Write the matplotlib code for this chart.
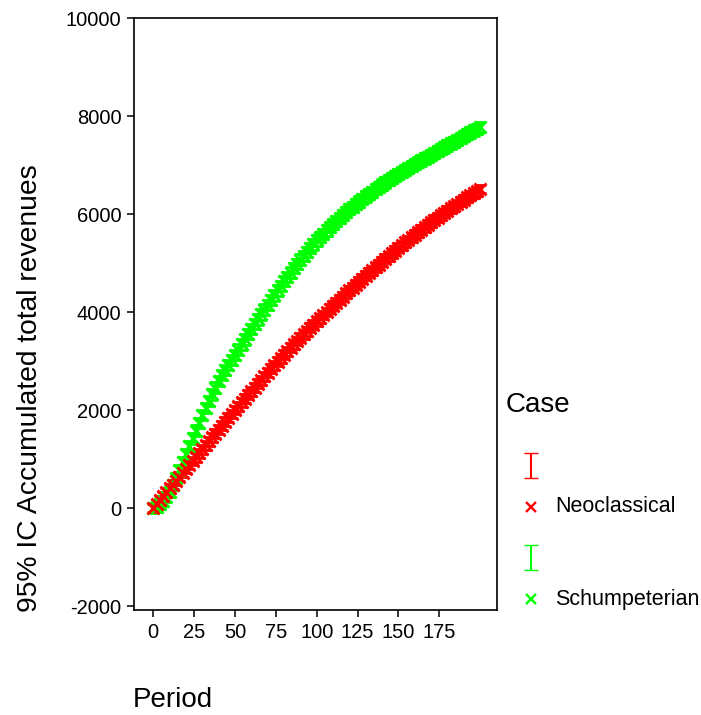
import numpy as np
import matplotlib
matplotlib.use("Agg")
import matplotlib.pyplot as plt

plt.rcParams['font.family'] = ['Liberation Sans', 'DejaVu Sans']
plt.rcParams['axes.unicode_minus'] = False

# periods (every 2nd period)
period = list(range(0, 201, 2))

neo = [0, 80, 160, 240, 320, 400,
       480, 560, 640, 720, 800,
       880, 960, 1040, 1120, 1200,
       1280, 1360, 1440, 1520, 1600,
       1680, 1760, 1840, 1920, 2000,
       2080, 2155, 2230, 2310, 2385,
       2460, 2535, 2610, 2690, 2765,
       2840, 2910, 2985, 3055, 3130,
       3200, 3270, 3340, 3410, 3480,
       3545, 3610, 3680, 3745, 3810,
       3875, 3940, 4000, 4065, 4130,
       4190, 4255, 4315, 4380, 4440,
       4500, 4560, 4620, 4680, 4740,
       4800, 4855, 4915, 4970, 5030,
       5085, 5140, 5200, 5255, 5310,
       5365, 5420, 5470, 5525, 5580,
       5630, 5680, 5730, 5780, 5830,
       5880, 5925, 5975, 6020, 6070,
       6115, 6160, 6205, 6250, 6295,
       6340, 6380, 6425, 6465, 6510]

schump = [0, 30, 80, 150, 230, 330,
          470, 620, 780, 940, 1100,
          1260, 1420, 1580, 1740, 1900,
          2040, 2180, 2320, 2460, 2600,
          2710, 2815, 2920, 3025, 3130,
          3235, 3340, 3440, 3545, 3650,
          3750, 3850, 3950, 4050, 4150,
          4245, 4340, 4440, 4535, 4630,
          4720, 4805, 4895, 4980, 5070,
          5150, 5225, 5305, 5380, 5460,
          5530, 5595, 5665, 5730, 5800,
          5860, 5920, 5980, 6040, 6100,
          6150, 6205, 6255, 6310, 6360,
          6410, 6455, 6505, 6550, 6600,
          6645, 6690, 6730, 6775, 6820,
          6860, 6900, 6940, 6980, 7020,
          7060, 7095, 7135, 7170, 7210,
          7250, 7285, 7325, 7360, 7400,
          7440, 7475, 7515, 7550, 7590,
          7630, 7665, 7705, 7740, 7780]

# half width of the 95% interval
neo_ci = 90
schump_ci = 105

cases = ['Neoclassical', 'Schumpeterian']
colors = ['#ff0000', '#00ff00']

fig = plt.figure(figsize=(7.01, 7.15), dpi=100)
ax = fig.add_axes([134/701, 1-610/715, 363/701, 592/715])

ax.errorbar(period, schump, yerr=schump_ci, fmt='x', color=colors[1], ecolor=colors[1],
            ms=8.5, mew=2, elinewidth=1.3, capsize=4)
ax.errorbar(period, neo, yerr=neo_ci, fmt='x', color=colors[0], ecolor=colors[0],
            ms=8.5, mew=2, elinewidth=1.3, capsize=4)

ax.set_xlim(-11.8, 210.3)
ax.set_ylim(-2080, 10000)
ax.set_xticks(range(0, 176, 25))
ax.set_yticks(range(-2000, 10001, 2000))
ax.tick_params(direction='out', length=5, width=1.1, labelsize=14.5, pad=4)
for s in ax.spines.values():
    s.set_linewidth(1.2)

fig.text(30/701, 1-388/715, '95% IC Accumulated total revenues', rotation=90,
         ha='center', va='center', fontsize=20.3)
fig.text(133/701, 1-700/715, 'Period', ha='left', va='center', fontsize=20)

# legend drawn in pixel space
lax = fig.add_axes([0, 0, 1, 1])
lax.set_xlim(0, 701)
lax.set_ylim(715, 0)
lax.axis('off')
lax.text(506, 405, 'Case', ha='left', va='center', fontsize=20)
for i, (name, c) in enumerate(zip(cases, colors)):
    y0 = 465 + i * 92
    lax.errorbar([531], [y0], yerr=12.5, fmt='none', ecolor=c, elinewidth=1.5, capsize=4.7)
    lax.plot([531], [y0 + 42], 'x', color=c, ms=7, mew=1.7)
    lax.text(555, y0 + 42, name, ha='left', va='center', fontsize=15.5)

fig.savefig('out.png', dpi=100)
